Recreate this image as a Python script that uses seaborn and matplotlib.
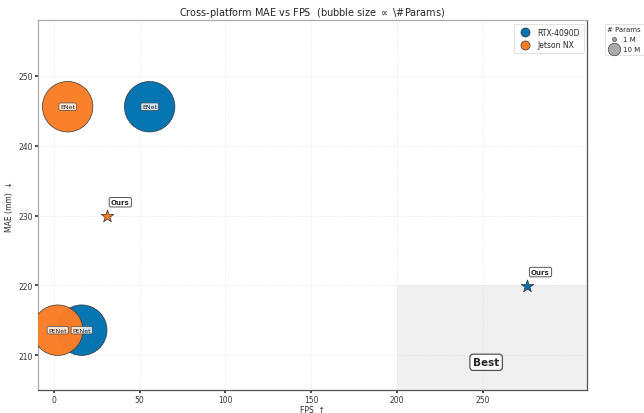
import seaborn as sns
import matplotlib.pyplot as plt
from matplotlib.lines import Line2D
from matplotlib.patches import Rectangle
import pandas as pd

sns.set_theme(style='whitegrid')
plt.rcParams['font.family'] = ['DejaVu Sans']

# baseline models on both platforms
models = ["ENet", "PENet", "ENet", "PENet"]
platforms = ["RTX-4090D", "RTX-4090D", "Jetson NX", "Jetson NX"]
fps = [55.8, 16.2, 8.0, 2.2]
mae = [245.6, 213.6, 245.6, 213.6]
params = [132, 132, 132, 132]   # millions

# our method
ours_platforms = ["RTX-4090D", "Jetson NX"]
ours_fps = [275.8, 30.8]
ours_mae = [219.9, 229.9]

colors = {"RTX-4090D": "#0173b2", "Jetson NX": "#fb7d26"}
size_scale = 10

df = pd.DataFrame({"model": models, "platform": platforms, "fps": fps,
                   "mae": mae, "params": params})
df["s"] = df["params"] * size_scale
ours = pd.DataFrame({"platform": ours_platforms, "fps": ours_fps, "mae": ours_mae})

fig = plt.figure(figsize=(6.44, 4.14), dpi=100)
ax = fig.add_axes([0.059, 0.055, 0.853, 0.894])

ax.set_xlim(-9.3, 311)
ax.set_ylim(205, 258)

# "best" region
ax.add_patch(Rectangle((200, 205), 111, 15, facecolor="#f0f0f0", edgecolor="none", zorder=0))

for p in ["RTX-4090D", "Jetson NX"]:
    sub = df[df.platform == p]
    sns.scatterplot(data=sub, x="fps", y="mae", s=sub["s"].values, color=colors[p],
                    edgecolor="#333333", linewidth=0.5, alpha=0.98, ax=ax, legend=False, zorder=3)

for _, r in df.iterrows():
    ax.text(r.fps, r.mae, r.model, fontsize=4.5, ha="center", va="center", zorder=5,
            bbox=dict(boxstyle="round,pad=0.2", fc="white", ec="#444444", lw=0.6, alpha=0.8))

for _, r in ours.iterrows():
    sns.scatterplot(x=[r.fps], y=[r.mae], marker="*", s=90, color=colors[r.platform],
                    edgecolor="#333333", linewidth=0.5, ax=ax, legend=False, zorder=6)
    ax.annotate("Ours", (r.fps, r.mae), xytext=(3, 8), textcoords="offset points",
                fontsize=5, fontweight="bold", ha="left", va="bottom", zorder=7,
                bbox=dict(boxstyle="round,pad=0.25", fc="white", ec="#555555", lw=0.7))

ax.text(252, 209, "Best", fontsize=7.5, fontweight="bold", ha="center", va="center",
        bbox=dict(boxstyle="round,pad=0.3", fc="white", ec="#555555", lw=0.9))

ax.set_xticks([0, 50, 100, 150, 200, 250])
ax.set_yticks([210, 220, 230, 240, 250])
ax.tick_params(labelsize=5.5, length=2, pad=1.5, left=True, bottom=True, colors="#333333")
ax.grid(True, linestyle=":", linewidth=0.5, color="#dddddd")
for sp in ax.spines.values():
    sp.set_color("#555555")
    sp.set_linewidth(0.9)
ax.spines["left"].set_color("#aaaaaa")
ax.spines["top"].set_color("#aaaaaa")

ax.set_xlabel("FPS  ↑", fontsize=5.5, labelpad=1)
ax.set_ylabel("MAE (mm)  ↓", fontsize=5.5, labelpad=3)
ax.set_title(r"Cross-platform MAE vs FPS  (bubble size $\propto$ \#Params)", fontsize=7, pad=4)

plat_handles = [Line2D([], [], marker="o", ls="", markersize=6.5, markerfacecolor=colors[p],
                       markeredgecolor="#333333", markeredgewidth=0.5) for p in colors]
leg1 = ax.legend(plat_handles, list(colors), loc="upper right", fontsize=5.5, frameon=True,
                 handletextpad=0.6, borderpad=0.5, labelspacing=0.45)
leg1.get_frame().set_linewidth(0.5)
ax.add_artist(leg1)

size_vals = [1, 10]
size_handles = [Line2D([], [], marker="o", ls="", markersize=(v * size_scale) ** 0.5 * 0.9,
                       markerfacecolor="#aaaaaa", markeredgecolor="#444444", markeredgewidth=0.5)
                for v in size_vals]
leg2 = ax.legend(size_handles, [f"{v} M" for v in size_vals], title="# Params", loc="upper left",
                 bbox_to_anchor=(1.025, 1.0), fontsize=5, title_fontsize=5, frameon=True,
                 handletextpad=0.5, handlelength=1.6, borderpad=0.4, labelspacing=0.55)
leg2.get_frame().set_linewidth(0.5)

fig.savefig("out.png", dpi=100)
